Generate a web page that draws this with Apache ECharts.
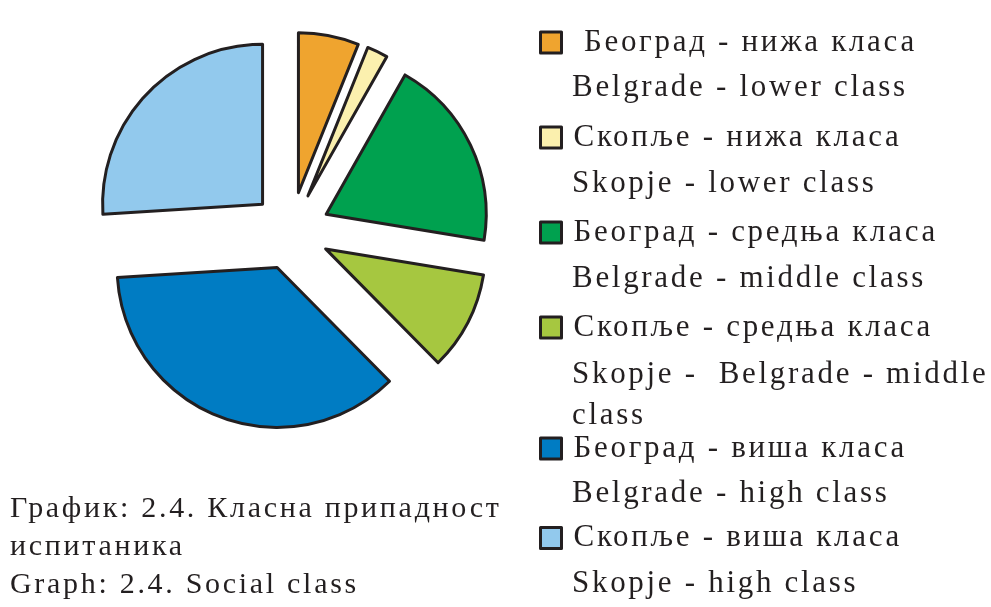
<!DOCTYPE html>
<html>
<head>
<meta charset="utf-8">
<title>Класна припадност испитаника</title>
<script src="https://cdn.jsdelivr.net/npm/echarts@6/dist/echarts.min.js"></script>
<style>
  html, body { margin: 0; padding: 0; background: #fff; }
  #chart { width: 991px; height: 607px; }
</style>
</head>
<body>
<div id="chart"></div>
<script>
// slices clockwise from 12 o'clock, values in %
const namesSr = [' Београд - нижа класа', 'Скопље - нижа класа', 'Београд - средња класа', 'Скопље - средња класа', 'Београд - виша класа', 'Скопље - виша класа']
const namesEn = [['Belgrade - lower class'], ['Skopje - lower class'], ['Belgrade - middle class'], ['Skopje -  Belgrade - middle', 'class'], ['Belgrade - high class'], ['Skopje - high class']]
const values = [6.1, 2.1, 19.4, 10.0, 36.4, 26.0]
const captionLines = ['График: 2.4. Класна припадност', 'испитаника', 'Graph: 2.4. Social class']

const colors = ['#efa42f', '#fbf0ae', '#00a14f', '#a6c740', '#007cc3', '#92c9ed']
const ink = '#231f20'
const font = 'Liberation Serif'

// the printed figure is set with loose tracking, zrender has no option for it
const fillText = CanvasRenderingContext2D.prototype.fillText
CanvasRenderingContext2D.prototype.fillText = function () {
  if ('letterSpacing' in this) this.letterSpacing = '2.7px'
  return fillText.apply(this, arguments)
}

const chart = echarts.init(document.getElementById('chart'))

// legend is split in two blocks because the 4th entry wraps onto an extra line
const legendLeft = 539
const blockA = { items: [0, 1, 2, 3], top: 27, gap: 64 }
const blockB = { items: [4, 5], top: 433, gap: 58.5 }
const itemBox = 31.5
const enOffsets = [44, 85]  // english lines below the serbian one

function legendBlock(block) {
  return {
    data: block.items.map(i => namesSr[i]),
    orient: 'vertical',
    left: legendLeft,
    top: block.top,
    itemGap: block.gap,
    padding: 0,
    icon: 'rect',
    itemWidth: 21,
    itemHeight: 21,
    itemStyle: { borderColor: ink, borderWidth: 3 },
    selectedMode: false,
    textStyle: { fontFamily: font, fontSize: 31, color: ink, padding: [14, 0, 0, 7] }
  }
}

// english lines under each legend entry
const enTexts = []
;[blockA, blockB].forEach(block => {
  block.items.forEach((i, k) => {
    const iconMid = block.top + 1.5 + 10.5 + k * (itemBox + block.gap)
    namesEn[i].forEach((line, j) => {
      enTexts.push({
        type: 'text',
        silent: true,
        style: {
          x: 572,
          y: iconMid + 5 + enOffsets[j],
          text: line,
          fontFamily: font,
          fontSize: 31,
          fill: ink,
          verticalAlign: 'middle'
        }
      })
    })
  })
})

chart.setOption({
  animation: false,
  title: {
    text: captionLines.join('\n'),
    left: 5,
    top: 485,
    textStyle: { fontFamily: font, fontSize: 30, fontWeight: 'normal', color: ink, lineHeight: 38 }
  },
  legend: [legendBlock(blockA), legendBlock(blockB)],
  graphic: enTexts,
  series: [{
    type: 'pie',
    center: [291, 231],
    radius: 160,
    startAngle: 90,
    clockwise: true,
    selectedMode: 'multiple',
    selectedOffset: 39,
    label: { show: false },
    labelLine: { show: false },
    emphasis: { disabled: true },
    itemStyle: { borderColor: ink, borderWidth: 3 },
    select: { itemStyle: { borderColor: ink, borderWidth: 3 } },
    data: namesSr.map((name, i) => ({
      name,
      value: values[i],
      selected: true,
      itemStyle: { color: colors[i] }
    }))
  }]
})
</script>
</body>
</html>
